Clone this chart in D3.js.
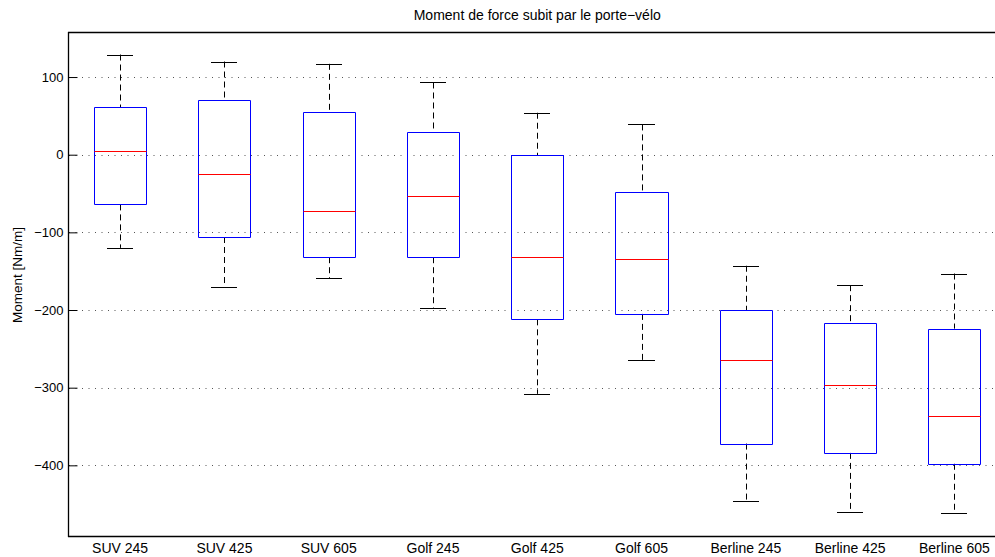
<!DOCTYPE html>
<html>
<head>
<meta charset="utf-8">
<script src="https://cdn.jsdelivr.net/npm/d3@7"></script>
<style>
  body { margin: 0; background: #fff; }
  text { font-family: "Liberation Sans", Arial, sans-serif; fill: #000; }
</style>
</head>
<body>
<svg id="chart"></svg>
<script>
// Box plot data (Nm/m)
const categories = ["SUV 245", "SUV 425", "SUV 605", "Golf 245", "Golf 425", "Golf 605", "Berline 245", "Berline 425", "Berline 605"];
const upperWhisker = [129, 120, 117, 93, 54, 39, -143, -168, -153];
const q3 = [61, 70, 55, 29, -1, -48, -200, -217, -224];
const medians = [5, -25, -72, -53, -132, -134, -264, -297, -337];
const q1 = [-64, -106, -132, -132, -212, -205, -372, -384, -398];
const lowerWhisker = [-120, -171, -159, -197, -308, -265, -446, -460, -462];
const yTicks = [-400, -300, -200, -100, 0, 100];

const width = 995, height = 557;
const axLeft = 68, axTop = 32, axBottom = 536;

const svg = d3.select("#chart")
    .attr("width", width)
    .attr("height", height);

// x axis runs 0.5 .. 9.5, the right part falls outside the window
let x = d3.scaleLinear().domain([0.5, 9.5]).range([axLeft, 1006.5]);
let y = d3.scaleLinear().domain([-491, 158]).range([axBottom, axTop]);

const boxW = x(1.25) - x(1);   // half width of box
const capW = x(1.125) - x(1);  // half width of whisker cap
const px = v => Math.round(v) + 0.5;

// grid lines
svg.append("g")
    .selectAll("line")
    .data(yTicks).enter()
    .append("line")
    .attr("x1", axLeft + 1)
    .attr("x2", width)
    .attr("y1", d => px(y(d)))
    .attr("y2", d => px(y(d)))
    .attr("stroke", "#555")
    .attr("stroke-dasharray", "1,5.5");

// y axis with inward ticks
const yAxis = d3.axisLeft(y)
    .tickValues(yTicks)
    .tickSize(-9)
    .tickPadding(14)
    .tickFormat(d => d < 0 ? "\u2212" + Math.abs(d) : d);

const gy = svg.append("g")
    .attr("transform", "translate(" + (axLeft + 0.5) + ",0)")
    .call(yAxis);
gy.select(".domain").remove();
gy.selectAll("line").attr("stroke", "#000");
gy.selectAll("text")
    .style("font-size", "13px")
    .attr("dx", "9");

// frame
svg.append("line").attr("x1", axLeft + 0.5).attr("x2", axLeft + 0.5)
    .attr("y1", axTop).attr("y2", axBottom + 1).attr("stroke", "#000").attr("stroke-width", 1.3);
svg.append("line").attr("x1", axLeft).attr("x2", width)
    .attr("y1", axTop + 0.5).attr("y2", axTop + 0.5).attr("stroke", "#000").attr("stroke-width", 1.3);
svg.append("line").attr("x1", axLeft).attr("x2", width)
    .attr("y1", axBottom + 0.5).attr("y2", axBottom + 0.5).attr("stroke", "#000").attr("stroke-width", 1.3);

const g = svg.append("g");
const idx = d3.range(categories.length);

// whiskers (dashed)
g.selectAll(".wup").data(idx).enter().append("line")
    .attr("class", "wup")
    .attr("x1", i => px(x(i + 1)))
    .attr("x2", i => px(x(i + 1)))
    .attr("y1", i => y(upperWhisker[i]))
    .attr("y2", i => y(q3[i]))
    .attr("stroke", "#000")
    .attr("stroke-dasharray", "6,4");
g.selectAll(".wlo").data(idx).enter().append("line")
    .attr("class", "wlo")
    .attr("x1", i => px(x(i + 1)))
    .attr("x2", i => px(x(i + 1)))
    .attr("y1", i => y(q1[i]))
    .attr("y2", i => y(lowerWhisker[i]))
    .attr("stroke", "#000")
    .attr("stroke-dasharray", "6,4");

// caps
[upperWhisker, lowerWhisker].forEach(arr => {
    g.selectAll(null).data(idx).enter().append("line")
        .attr("x1", i => Math.round(x(i + 1) - capW))
        .attr("x2", i => Math.round(x(i + 1) + capW))
        .attr("y1", i => px(y(arr[i])))
        .attr("y2", i => px(y(arr[i])))
        .attr("stroke", "#000");
});

// boxes as closed paths
g.selectAll("path.box").data(idx).enter().append("path")
    .attr("class", "box")
    .attr("d", i => {
        const x0 = px(x(i + 1) - boxW), x1 = px(x(i + 1) + boxW);
        const y0 = px(y(q3[i])), y1 = px(y(q1[i]));
        return "M" + x0 + "," + y0 + "H" + x1 + "V" + y1 + "H" + x0 + "Z";
    })
    .attr("fill", "none")
    .attr("stroke", "rgb(0,0,255)");

g.selectAll(".med").data(idx).enter().append("line")
    .attr("class", "med")
    .attr("x1", i => px(x(i + 1) - boxW))
    .attr("x2", i => px(x(i + 1) + boxW))
    .attr("y1", i => px(y(medians[i])))
    .attr("y2", i => px(y(medians[i])))
    .attr("stroke", "rgb(255,0,0)");

// category labels
svg.append("g").selectAll("text")
    .data(categories).enter()
    .append("text")
    .attr("x", (d, i) => x(i + 1))
    .attr("y", 553)
    .attr("text-anchor", "middle")
    .style("font-size", "14px")
    .text(d => d);

// title
svg.append("text")
    .attr("x", x(5))
    .attr("y", 20)
    .attr("text-anchor", "middle")
    .style("font-size", "14px")
    .text("Moment de force subit par le porte\u2212vélo");

// y label
svg.append("text")
    .attr("transform", "translate(22," + 275 + ") rotate(-90)")
    .attr("text-anchor", "middle")
    .style("font-size", "13.5px")
    .text("Moment [Nm/m]");
</script>
</body>
</html>
